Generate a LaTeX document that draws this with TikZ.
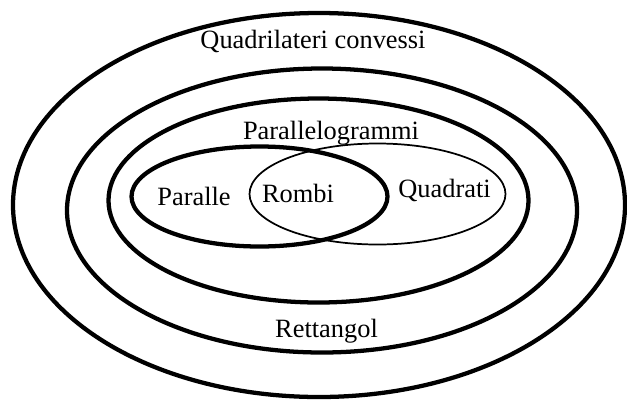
\documentclass[tikz,border=0pt]{standalone}
\usepackage{fontspec}
\setmainfont{Liberation Serif}
\begin{document}
\begin{tikzpicture}[x=0.75pt,y=-0.75pt,
  thickline/.style={line width=3.2pt},
  thinline/.style={line width=1.3pt},
  lbl/.style={inner sep=0pt,anchor=base,font=\fontsize{19.8pt}{23pt}\selectfont}]
\useasboundingbox (0,0) rectangle (627,404);
\draw[thickline] (319,205) ellipse [x radius=306,y radius=192];
\draw[thickline] (322,210.5) ellipse [x radius=255,y radius=142];
\draw[thickline] (318.5,200.5) ellipse [x radius=210,y radius=102];
\draw[thickline] (259.5,196.5) ellipse [x radius=128,y radius=50];
\draw[thinline] (377.5,194) ellipse [x radius=128,y radius=50.5];
\node[lbl] (quad) at (313,48) {Quadrilateri convessi};
\node[lbl] (par) at (331,139) {Parallelogrammi};
\node[lbl] (paralle) at (194,205) {Paralle};
\node[lbl] (rombi) at (298,202) {Rombi};
\node[lbl] (quadrati) at (444.5,197) {Quadrati};
\node[lbl] (rett) at (326.5,337) {Rettangol};
\end{tikzpicture}
\end{document}
